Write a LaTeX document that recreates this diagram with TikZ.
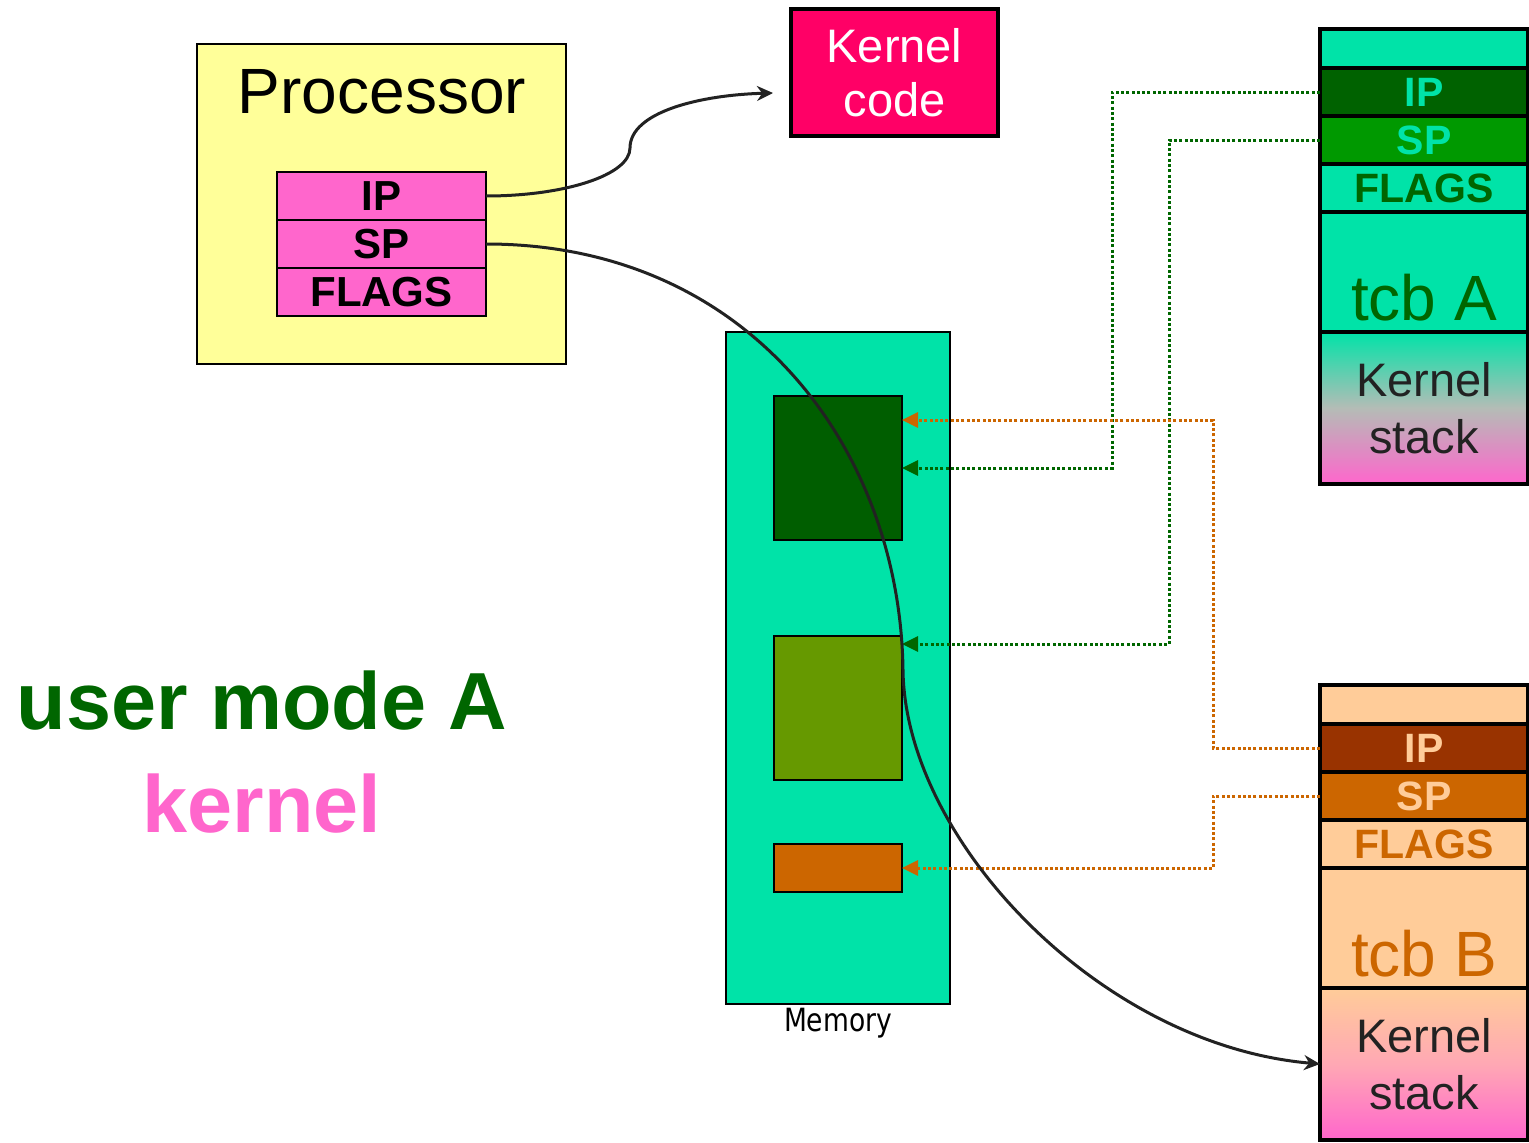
\documentclass[tikz,border=0pt]{standalone}
\usepackage{fontspec}
\setmainfont{Liberation Sans}
\newfontfamily\memfont[FakeStretch=0.83]{DejaVu Sans}
\usetikzlibrary{arrows.meta,positioning}

\definecolor{procyellow}{HTML}{FFFF99}
\definecolor{regpink}{HTML}{FF66CC}
\definecolor{kcodered}{HTML}{FF0066}
\definecolor{memteal}{HTML}{00E3A8}
\definecolor{darkgreen}{HTML}{006600}
\definecolor{ipgreen}{HTML}{006200}
\definecolor{spgreen}{HTML}{009900}
\definecolor{stackgreen}{HTML}{005E00}
\definecolor{olive}{HTML}{669900}
\definecolor{orangec}{HTML}{CC6600}
\definecolor{rust}{HTML}{993300}
\definecolor{peach}{HTML}{FFCC99}
\definecolor{inkblack}{HTML}{222222}
\definecolor{midA}{HTML}{B4BCB6}
\definecolor{midB}{HTML}{FFA8B4}

\tikzset{
  box/.style={draw, line width=2pt, anchor=north west, inner sep=0pt, outer sep=0pt},
  reg/.style={box, fill=regpink, minimum width=209pt, minimum height=48pt,
    font=\fontsize{42}{42}\selectfont\bfseries},
  cell/.style={draw, line width=4pt, anchor=north west, inner sep=0pt, outer sep=0pt,
    minimum width=208pt, font=\fontsize{41}{41}\selectfont\bfseries},
  ptr/.style={draw=inkblack, line width=3pt, -{Stealth[length=16pt,width=15pt]}},
  link/.style={line width=3pt, dash pattern=on 3pt off 2.3pt,
    -{Triangle[length=16pt,width=15pt]}},
  greenlink/.style={link, draw=darkgreen},
  orangelink/.style={link, draw=orangec},
  mode/.style={anchor=base, font=\fontsize{81}{81}\selectfont\bfseries}
}

\begin{document}
\begin{tikzpicture}[x=1pt,y=-1pt]
\useasboundingbox (0,0) rectangle (1529,1143);

% processor and its registers
\node[box, fill=procyellow, minimum width=369pt, minimum height=320pt] (proc) at (197,44) {};
\node[anchor=base, font=\fontsize{64}{64}\selectfont] (proclabel) at (382,113) {Processor};
\node[reg] (ip) at (277,172) {IP};
\node[reg, below=0pt of ip] (sp) {SP};
\node[reg, below=0pt of sp] (flags) {FLAGS};

% kernel code
\node[box, line width=4pt, fill=kcodered, text=white, minimum width=207pt, minimum height=127pt,
  align=center, font=\fontsize{47}{54}\selectfont] (kcode) at (791,9) {Kernel\\code};
\coordinate (kin) at (773,93);

% current mode
\node[mode, text=darkgreen] (umode) at (262,729) {user mode A};
\node[mode, text=regpink] (kmode) at (262,832) {kernel};

% memory
\node[box, fill=memteal, minimum width=224pt, minimum height=672pt] (mem) at (726,332) {};
\node[anchor=base, font=\memfont\fontsize{32}{32}\selectfont] (memlabel) at (838,1031) {Memory};
\node[box, fill=stackgreen, minimum width=128pt, minimum height=144pt] (darkblk) at (774,396) {};
\node[box, fill=olive, minimum width=128pt, minimum height=144pt] (oliveblk) at (774,636) {};
\node[box, fill=orangec, minimum width=128pt, minimum height=48pt] (orangeblk) at (774,844) {};

% the two thread control blocks
\foreach \col/\yy/\bg/\mid/\ipfill/\spfill/\ink/\regink in
  {A/29/memteal/midA/ipgreen/spgreen/darkgreen/memteal,
   B/685/peach/midB/rust/orangec/orangec/peach}{
  \node[cell, fill=\bg, minimum height=39pt] (head\col) at (1320,\yy) {};
  \node[cell, fill=\ipfill, text=\regink, minimum height=48pt, below=0pt of head\col] (ip\col) {IP};
  \node[cell, fill=\spfill, text=\regink, minimum height=48pt, below=0pt of ip\col] (sp\col) {SP};
  \node[cell, fill=\bg, text=\ink, minimum height=48pt, below=0pt of sp\col] (flags\col) {FLAGS};
  \node[cell, fill=\bg, minimum height=120pt, below=0pt of flags\col] (tcb\col) {};
  \node[anchor=base, text=\ink, font=\fontsize{64}{64}\selectfont] (tcblabel\col)
    at ([yshift=12pt]tcb\col.south) {tcb \col};
  \node[cell, top color=\bg, bottom color=regpink, middle color=\mid, minimum height=152pt,
    below=0pt of tcb\col, align=center, text=inkblack, font=\fontsize{47}{57}\selectfont]
    (kstack\col) {Kernel\\stack};
}

% saved registers point into memory
\draw[greenlink] (ipA.west) -- ++(-208,0) |- (darkblk.east);
\draw[greenlink] (spA.west) -- ++(-151,0) |- ([yshift=-8pt]oliveblk.north east);
\draw[orangelink] (ipB.west) -- ++(-107,0) |- ([yshift=-24pt]darkblk.north east);
\draw[orangelink] (spB.west) -- ++(-107,0) |- (orangeblk.east);

% live registers
\draw[ptr] (ip.east) .. controls (565,196) and (630,175) .. (630,148)
  .. controls (630,112) and (700,95) .. (kin);
\draw[ptr] (sp.east) .. controls (750,244) and (900,450) .. (903,670)
  .. controls (905,840) and (1100,1045) .. (kstackB.west);
\end{tikzpicture}
\end{document}
